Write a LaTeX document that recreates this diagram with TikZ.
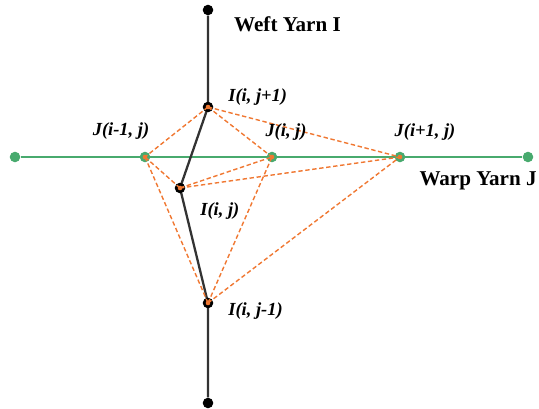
\documentclass[tikz,border=0pt]{standalone}
\usepackage{fontspec}
\setmainfont{Liberation Serif}
\usepackage{xcolor}
\usetikzlibrary{arrows.meta, positioning, calc}

\definecolor{warpgreen}{RGB}{72,170,110}
\definecolor{linkorange}{RGB}{240,120,50}

\tikzset{
  enddot/.style={circle, fill=black, inner sep=0pt, minimum size=6pt},
  greendot/.style={circle, fill=warpgreen, inner sep=0pt, minimum size=6pt},
  weftdot/.style={circle, fill=black, inner sep=0pt, minimum size=6pt, path picture={\fill[linkorange] (path picture bounding box.center) circle (1.3pt);}},
  warpdot/.style={circle, fill=warpgreen, inner sep=0pt, minimum size=6pt, path picture={\fill[linkorange] (path picture bounding box.center) circle (1.3pt);}},
  link/.style={linkorange, dashed, dash pattern=on 2.5pt off 1.5pt, line width=0.8pt},
  lbl/.style={font=\bfseries\itshape\fontsize{10.5}{12}\selectfont, inner sep=0pt},
}

\begin{document}
\begin{tikzpicture}[x=0.02cm, y=-0.02cm]
        \useasboundingbox (0,0) rectangle (539,409);

        % weft yarn I
        \node (wtop) [enddot] at (208,10) {};
        \node (wbot) [enddot] at (208,403) {};
        % warp yarn J
        \node (jl) [greendot] at (15,157) {};
        \node (jr) [greendot] at (528,157) {};

        \draw [warpgreen, line width=1.6pt] (jl) -- (jr);
        \draw [black!80, line width=1.3pt] (wtop) -- (208,107) -- (180,188) -- (208,303) -- (wbot);

        \node (iup) [weftdot] at (208,107) {};
        \node (imid) [weftdot] at (180,188) {};
        \node (idn) [weftdot] at (208,303) {};
        \node (jm) [warpdot] at (145,157) {};
        \node (jc) [warpdot] at (272,157) {};
        \node (jp) [warpdot] at (400,157) {};

        % links
        \foreach \a in {iup, imid, idn}
          \foreach \b in {jm, jc, jp}
            \draw [link] (\a.center) -- (\b.center);

        % labels
        \node [font=\bfseries\fontsize{12}{14}\selectfont, anchor=west] (weftlbl) at (228,24) {Weft Yarn I};
        \node [font=\bfseries\fontsize{12}{14}\selectfont, anchor=east, inner sep=0pt] (warplbl) at (537,181) {Warp Yarn J};
        \node [lbl, anchor=west] (iuplbl) at (228,97) {I(i, j+1)};
        \node [lbl, anchor=west] (imidlbl) at (200,211) {I(i, j)};
        \node [lbl, anchor=west] (idnlbl) at (228,311) {I(i, j-1)};
        \node [lbl] (jmlbl) at (121,131) {J(i-1, j)};
        \node [lbl] (jclbl) at (286,132) {J(i, j)};
        \node [lbl] (jplbl) at (425,132) {J(i+1, j)};
\end{tikzpicture}
\end{document}
